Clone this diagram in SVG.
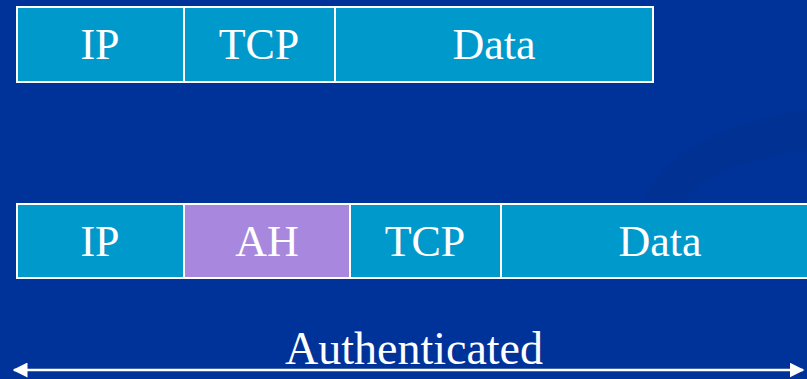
<svg xmlns="http://www.w3.org/2000/svg" width="807" height="379" viewBox="0 0 807 379">
<defs>
<style>
.cell{fill:#0099CC;stroke:#FFFFFF;stroke-width:2}
.ah{fill:#A788DE;stroke:#FFFFFF;stroke-width:2}
.lbl{font-family:"Liberation Serif","Times New Roman",serif;font-size:44px;fill:#FFFFFF;text-anchor:middle}
.conn{stroke:#FFFFFF;stroke-width:2.5;fill:none}
</style>
<marker id="ah-end" viewBox="0 0 10 10" refX="9" refY="5" markerWidth="6" markerHeight="6" orient="auto-start-reverse" markerUnits="strokeWidth">
<path d="M0,0 L10,5 L0,10 z" fill="#FFFFFF"/>
</marker>
</defs>
<rect width="807" height="379" fill="#003399"/>
<path d="M640,210 C660,150 730,120 807,110 L807,150 C740,160 690,180 680,210 Z" fill="#00308F" opacity="0.6"/>
<g id="row1">
<g id="r1-ip"><rect class="cell" x="17" y="7" width="167" height="75"/><text class="lbl" x="100" y="59">IP</text></g>
<g id="r1-tcp"><rect class="cell" x="184" y="7" width="151" height="75"/><text class="lbl" x="259" y="59">TCP</text></g>
<g id="r1-data"><rect class="cell" x="335" y="7" width="318" height="75"/><text class="lbl" x="494" y="59">Data</text></g>
</g>
<g id="row2">
<g id="r2-ip"><rect class="cell" x="17" y="204" width="167" height="74"/><text class="lbl" x="100" y="256">IP</text></g>
<g id="r2-ah"><rect class="ah" x="184" y="204" width="166" height="74"/><text class="lbl" x="267" y="256">AH</text></g>
<g id="r2-tcp"><rect class="cell" x="350" y="204" width="151" height="74"/><text class="lbl" x="425" y="256">TCP</text></g>
<g id="r2-data"><rect class="cell" x="501" y="204" width="310" height="74"/><text class="lbl" x="660" y="256">Data</text></g>
</g>
<g id="connectors">
<line class="conn" x1="14" y1="370" x2="803" y2="370" marker-start="url(#ah-end)" marker-end="url(#ah-end)"/>
</g>
<g id="label-auth"><text class="lbl" x="414" y="364" style="font-size:46px">Authenticated</text></g>
</svg>
